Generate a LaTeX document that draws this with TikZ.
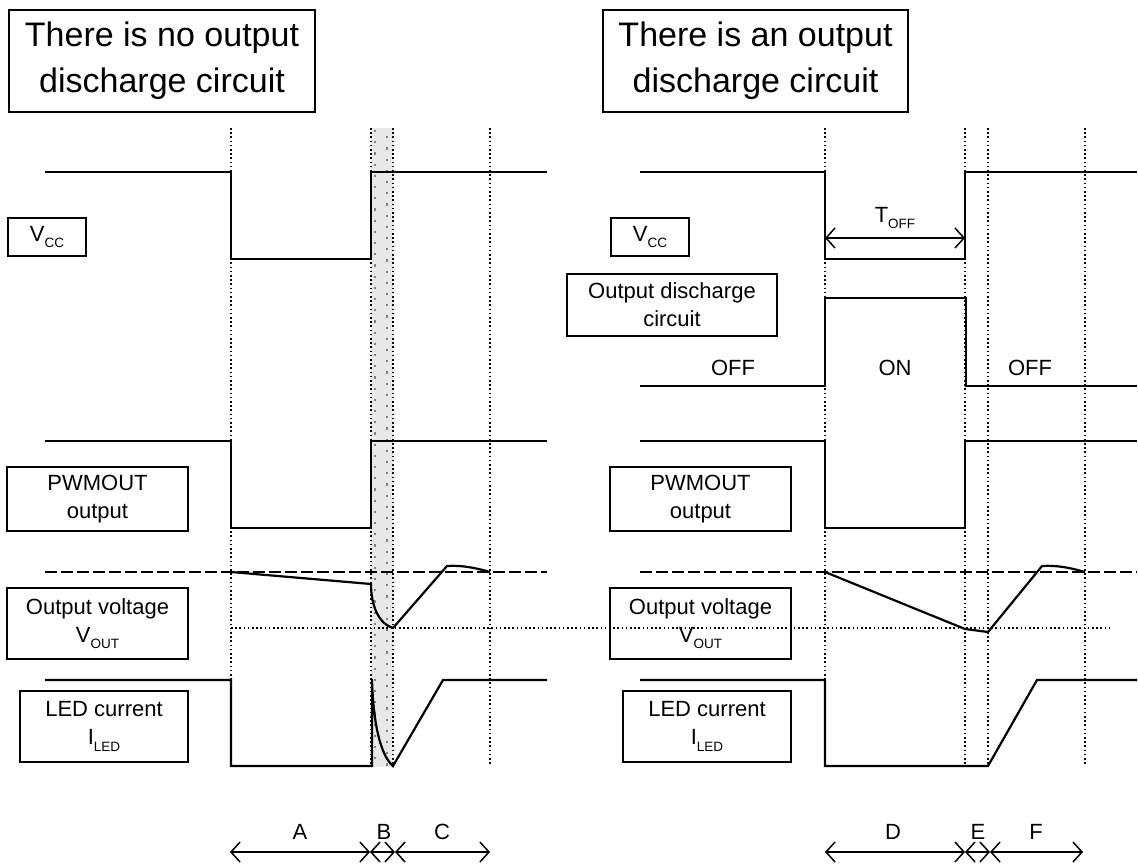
\documentclass[tikz,border=0pt]{standalone}
\usepackage{fontspec}
\setmainfont{Liberation Sans}
\usetikzlibrary{arrows.meta}
\newcommand{\lowsub}[1]{\raisebox{-0.28em}{\fontsize{13.5}{13.5}\selectfont #1}}

\begin{document}
\begin{tikzpicture}[x=1pt, y=-1pt,
  lbl/.style={font=\fontsize{22}{28}\selectfont},
  box/.style={draw, line width=1.5pt, inner sep=0pt, align=center, lbl},
  titlebox/.style={draw, line width=1.5pt, inner sep=0pt, align=center, font=\fontsize{34}{46}\selectfont},
  wave/.style={line width=2.2pt, line join=miter},
  ref/.style={line width=2pt, dash pattern=on 12pt off 4pt},
  guide/.style={line width=1.7pt, dash pattern=on 1.6pt off 2.6pt},
  dimline/.style={line width=1.5pt, {Straight Barb[length=9pt,width=20pt]}-{Straight Barb[length=9pt,width=20pt]}}]
\useasboundingbox (0,0) rectangle (1138,864);

% shaded interval B
\fill[gray!18] (371,128) rectangle (393,767);
\draw[gray, line width=2.2pt, dash pattern=on 2.2pt off 9pt] (375,130) -- (375,767);
\draw[gray, line width=2.2pt, dash pattern=on 2.2pt off 9pt, dash phase=5pt] (387,130) -- (387,767);

% time markers
\foreach \tx in {231,371,393,490,825,965,988,1085}
  \draw[guide] (\tx,128) -- (\tx,764);
\draw[guide] (231,628) -- (1112,628);

% titles
\node[titlebox, minimum width=306, minimum height=102] (noDisTitle) at (162,61) {There is no output\\discharge circuit};
\node[titlebox, minimum width=305, minimum height=102] (disTitle) at (755.5,61) {There is an output\\discharge circuit};

% signal names
\node[box, minimum width=78, minimum height=38] (vccL) at (47,237) {V\lowsub{CC}};
\node[box, minimum width=78, minimum height=38] (vccR) at (650,237) {V\lowsub{CC}};
\node[box, minimum width=210, minimum height=62] (dischR) at (672,305) {Output discharge\\circuit};
\node[box, minimum width=181, minimum height=64] (pwmL) at (97.5,499) {PWMOUT\\output};
\node[box, minimum width=181, minimum height=64] (pwmR) at (700.5,499) {PWMOUT\\output};
\node[box, minimum width=181, minimum height=71] (voutL) at (97.5,623.5) {Output voltage\\V\lowsub{OUT}};
\node[box, minimum width=181, minimum height=71] (voutR) at (700.5,623.5) {Output voltage\\V\lowsub{OUT}};
\node[box, minimum width=168, minimum height=71] (ledL) at (104,726.5) {LED current\\I\lowsub{LED}};
\node[box, minimum width=168, minimum height=71] (ledR) at (707,726.5) {LED current\\I\lowsub{LED}};

% left: no discharge circuit
\draw[wave] (45,172) -- (231,172) -- (231,259) -- (371,259) -- (371,172) -- (547,172);
\draw[wave] (45,441) -- (231,441) -- (231,528) -- (371,528) -- (371,441) -- (547,441);
\draw[ref] (45,572) -- (547,572);
\draw[wave] (231,572) -- (371,584) .. controls (371,606) and (379,624) .. (393,628)
  -- (447,566) .. controls (462,565) and (476,568) .. (490,572);
\draw[wave] (45,680) -- (231,680) -- (231,766) -- (372,766) -- (372,679)
  .. controls (373,721) and (380,755) .. (393,766) -- (443,680) -- (547,680);

% right: with discharge circuit
\draw[wave] (640,172) -- (825,172) -- (825,259) -- (965,259) -- (965,172) -- (1137,172);
\draw[wave] (640,386) -- (825,386) -- (825,298) -- (966,298) -- (966,386) -- (1137,386);
\draw[wave] (640,441) -- (825,441) -- (825,528) -- (965,528) -- (965,441) -- (1137,441);
\draw[ref] (640,572) -- (1137,572);
\draw[wave] (825,572) -- (965,629) -- (988,632) -- (1042,566)
  .. controls (1057,565) and (1071,568) .. (1085,572);
\draw[wave] (640,680) -- (825,680) -- (825,766) -- (988,766) -- (1037,680) -- (1137,680);

\node[lbl, anchor=base] (offA) at (733,375) {OFF};
\node[lbl, anchor=base] (onLbl) at (895,375) {ON};
\node[lbl, anchor=base] (offB) at (1030,375) {OFF};

% T_OFF
\coordinate (toffS) at (825,238);
\coordinate (toffE) at (965,238);
\draw[dimline] (toffS) -- (toffE);
\node[lbl, anchor=base] (toffLbl) at (895,222) {T\lowsub{OFF}};

% intervals
\coordinate (a0) at (230,852);
\coordinate (a1) at (370,852);
\coordinate (a2) at (395,852);
\coordinate (a3) at (490,852);
\coordinate (d0) at (825,852);
\coordinate (d1) at (965,852);
\coordinate (d2) at (990,852);
\coordinate (d3) at (1083,852);
\draw[dimline] (a0) -- (a1);
\draw[dimline] (a1) -- (a2);
\draw[dimline] (a2) -- (a3);
\draw[dimline] (d0) -- (d1);
\draw[dimline] (d1) -- (d2);
\draw[dimline] (d2) -- (d3);
\node[lbl, anchor=base] (labA) at (300,839) {A};
\node[lbl, anchor=base] (labB) at (384,839) {B};
\node[lbl, anchor=base] (labC) at (442,839) {C};
\node[lbl, anchor=base] (labD) at (893,839) {D};
\node[lbl, anchor=base] (labE) at (978,839) {E};
\node[lbl, anchor=base] (labF) at (1036,839) {F};
\end{tikzpicture}
\end{document}
